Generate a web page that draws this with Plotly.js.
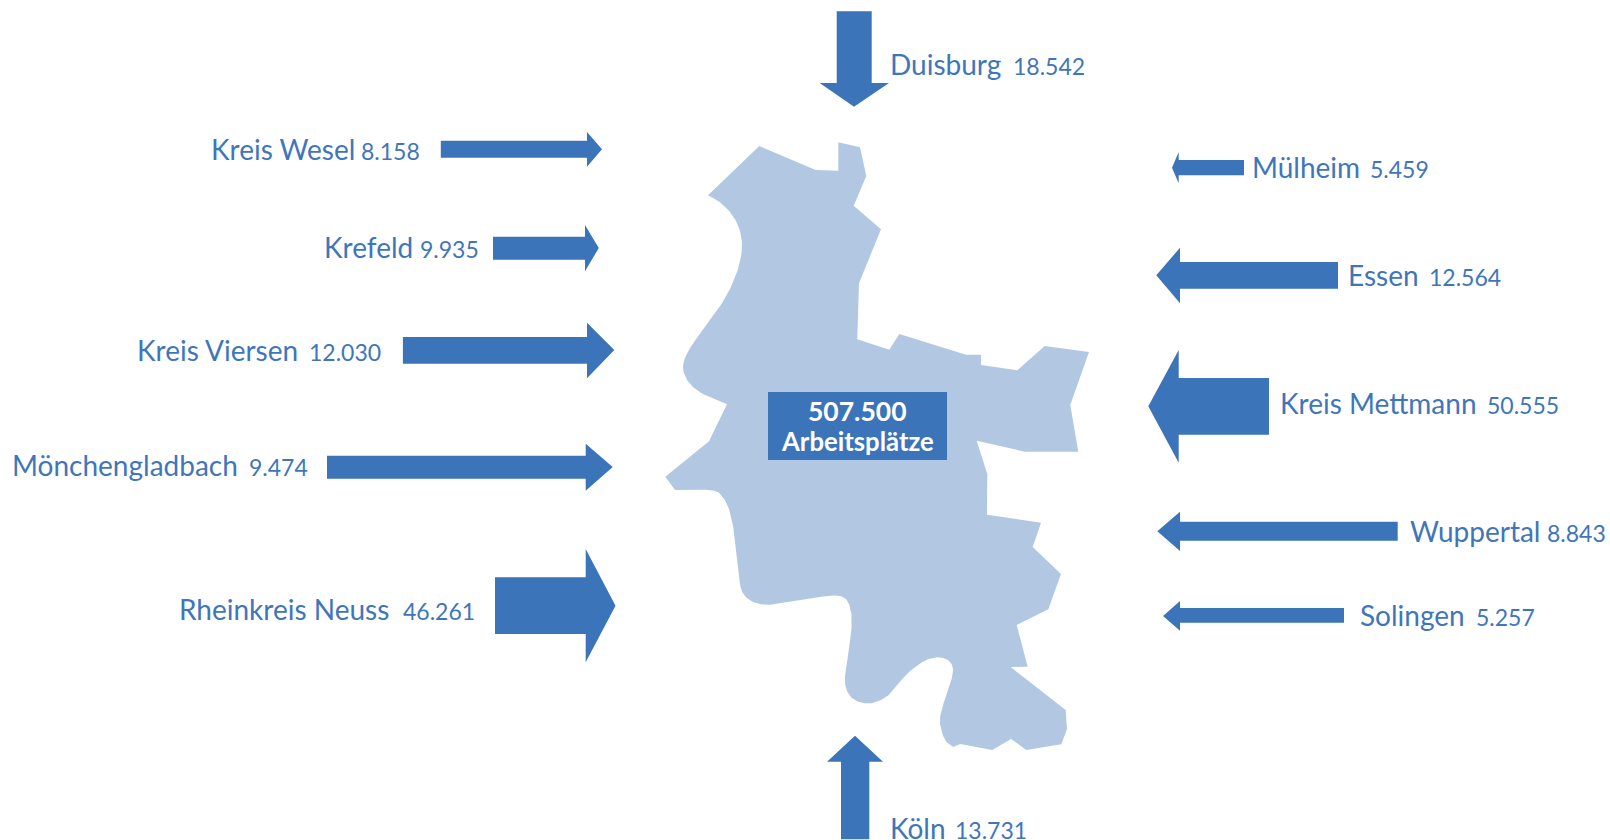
<!DOCTYPE html>
<html>
<head>
<meta charset="utf-8">
<script src="https://cdn.plot.ly/plotly-3.0.1.min.js"></script>
<style>html,body{margin:0;padding:0;background:#fff}#chart{width:1610px;height:840px}</style>
</head>
<body>
<div id="chart"></div>
<script>
// Values
var places = ["Duisburg","Kreis Wesel","Krefeld","Kreis Viersen","Mönchengladbach","Rheinkreis Neuss","Köln","Solingen","Wuppertal","Kreis Mettmann","Essen","Mülheim"];
var commuters = ["18.542","8.158","9.935","12.030","9.474","46.261","13.731","5.257","8.843","50.555","12.564","5.459"];
var totalValue = "507.500";
var totalLabel = "Arbeitsplätze";

// Arrow geometry, one entry per place
var direction = ["v","h","h","h","h","h","v","h","h","h","h","h"];
var tail  = [11.3,440.8,493,402.9,327,495,839.3,1344,1397.7,1269,1338,1244];
var neck  = [83,587,585,587,585.7,585.7,761.7,1180,1180,1178.7,1180,1178.7];
var tip   = [106.7,602,598.8,614.3,612.7,615.5,735.7,1163,1157.3,1148.3,1156.3,1172];
var tipAt = [854,149.3,248,350,467,605.7,855,616,531.3,406.3,275.3,167.7];
var shaftLo = [836.7,140.7,236.7,337,455.7,577.3,841,608,521.7,378,262,160];
var shaftHi = [871.7,157.7,259.7,363.7,478.7,634,869.3,622.7,540.7,434.7,288.7,175.3];
var headLo = [819.7,132,225,322.7,443.7,549,827,601,511.7,350,247.7,152];
var headHi = [889,166.7,271.3,378.3,490.7,662.3,883,630.7,551,462.7,303.3,183.3];

// Label positions
var nameX = [888.7,209.5,322.5,136,10.5,177.5,888.7,1359,1409,1278.7,1346.7,1251];
var valueX = [1012,360,418.6,308,248,402,953.7,1474.7,1546,1485.7,1427.7,1369];
var baseline = [74,159,257,360,475,619,838,625,540.7,413,285,177];

// City outline
var cityX = [759.3,815.7,838.3,838.3,860,866.3,853.7,881,859,857.3,889.3,899.3,966,981,981,1017.3,1044.7,1089,1070.3,1078.3,1025,976.7,987.3,987,1041,1032.7,1061,1048.3,1016.7,1027.7,1010.7,1065.7,1067,1061.3,1026.3,1011,992.3,960.3,953.3,945,939,941.7,948.3,953.7,951.7,945,936.7,926.7,915,903.3,894,885,875,866.7,856.7,848.3,844.3,846,850,852.3,850,845,836.7,823.3,803.3,783.3,766.7,753.3,744,740,738.3,735,730,723.3,715,675,665.3,709,727,703.3,690,683.3,682.7,688.3,700,716.7,730,739.3,742.7,740,731.7,720,708];
var cityY = [146,170,170.7,142.3,147.3,176,205.7,229.3,283.3,339.3,349.7,334,354.7,354.7,365,370.3,346,352,405,451.7,451.7,440.7,474,514.7,522.7,547,574,609.3,625,666.7,667,710,729.3,744.3,750,739,750,744,747,741.7,723.3,708.3,690,671.7,662.7,658,657,659.3,666.7,677.3,690,698.3,702.7,703.7,701.7,695,683.3,666.7,643.3,620,605,597.3,595,596.3,600,603.3,605.3,602.7,596,586.7,570,536.7,510,496.7,489.3,490,476.7,441.3,404.3,395,385,373.3,363.3,350,333.3,311.7,290,266.7,246.7,228.3,213.3,201.7,195.3];
// River bends of the outline: inclusive index runs that are rounded rather than cornered
var riverBends = [[39,74],[79,91]];

var arrowColor = "#3c74b9";
var cityColor = "#b2c8e2";
var textColor = "#3f76ba";
var labelFont = "Lato, 'Noto Sans', sans-serif";

// Rounds the river bends by corner cutting; the straight borders keep their corners.
function roundOutline(xs, ys, bends) {
  var pts = xs.map(function (x, i) {
    return {x: x, y: ys[i], soft: bends.some(function (b) { return i >= b[0] && i <= b[1]; })};
  });
  for (var pass = 0; pass < 3; pass++) {
    var out = [];
    pts.forEach(function (p, i) {
      if (!p.soft) { out.push(p); return; }
      var a = pts[(i - 1 + pts.length) % pts.length], b = pts[(i + 1) % pts.length];
      out.push({x: 0.75 * p.x + 0.25 * a.x, y: 0.75 * p.y + 0.25 * a.y, soft: true});
      out.push({x: 0.75 * p.x + 0.25 * b.x, y: 0.75 * p.y + 0.25 * b.y, soft: true});
    });
    pts = out;
  }
  pts.push(pts[0]);
  return {x: pts.map(function (p) { return p.x; }), y: pts.map(function (p) { return p.y; })};
}
var outline = roundOutline(cityX, cityY, riverBends);

var traces = [{
  type: "scatter", mode: "lines", x: outline.x, y: outline.y,
  fill: "toself", fillcolor: cityColor, line: {width: 0, color: cityColor}, name: "Düsseldorf"
}];

places.forEach(function (place, i) {
  var along = [tail[i], neck[i], neck[i], tip[i], neck[i], neck[i], tail[i], tail[i]];
  var across = [shaftLo[i], shaftLo[i], headLo[i], tipAt[i], headHi[i], shaftHi[i], shaftHi[i], shaftLo[i]];
  traces.push({
    type: "scatter", mode: "lines",
    x: direction[i] === "h" ? along : across,
    y: direction[i] === "h" ? across : along,
    fill: "toself", fillcolor: arrowColor, line: {width: 0, color: arrowColor}, name: place
  });
});

var nameSize = 28, valueSize = 23;
var annotations = [];
function addText(text, x, base, size, color, anchor, weight) {
  annotations.push({
    xref: "x", yref: "y", x: x, y: base - size * 0.35, text: text, showarrow: false,
    xanchor: anchor, yanchor: "middle", borderpad: 0,
    font: {family: labelFont, size: size, color: color, weight: weight}
  });
}
places.forEach(function (place, i) {
  addText(place, nameX[i], baseline[i], nameSize, textColor, "left", 400);
  addText(commuters[i], valueX[i], baseline[i], valueSize, textColor, "left", 400);
});
addText(totalValue, 857.5, 420, 26.5, "#ffffff", "center", 700);
addText(totalLabel, 857.5, 450, 25.7, "#ffffff", "center", 700);

var layout = {
  width: 1610, height: 840,
  margin: {l: 0, r: 0, t: 0, b: 0},
  paper_bgcolor: "#ffffff", plot_bgcolor: "#ffffff",
  showlegend: false, hovermode: false,
  xaxis: {range: [0, 1610], visible: false, fixedrange: true},
  yaxis: {range: [840, 0], visible: false, fixedrange: true},
  shapes: [{type: "rect", xref: "x", yref: "y", x0: 768, x1: 947, y0: 392, y1: 460, fillcolor: arrowColor, line: {width: 0}, layer: "above"}],
  annotations: annotations
};
Plotly.newPlot("chart", traces, layout, {displayModeBar: false, staticPlot: true});
</script>
</body>
</html>
